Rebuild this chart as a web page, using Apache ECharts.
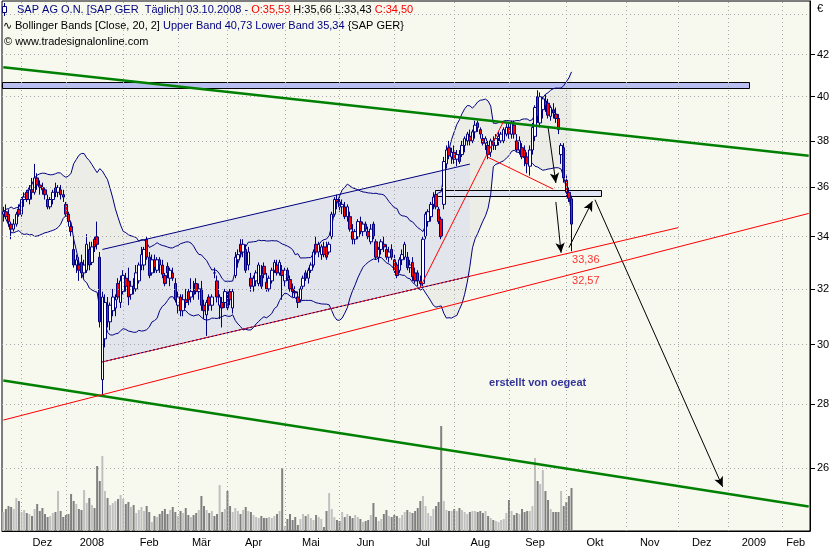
<!DOCTYPE html>
<html><head><meta charset="utf-8">
<script src="https://cdn.jsdelivr.net/npm/echarts@6.0.0/dist/echarts.min.js"></script>
<style>html,body{margin:0;padding:0;background:#fff}#c{width:840px;height:550px}</style>
</head><body><div id="c"></div>
<script>
// ---------- data ----------
const holidays = ['2007-12-24','2007-12-25','2007-12-26','2007-12-31','2008-01-01','2008-03-21','2008-03-24','2008-05-01','2008-12-24','2008-12-25','2008-12-26','2008-12-31','2009-01-01'];
const firstDay = '2007-11-22';
const lastDay = '2009-02-16';
const monthNames = ['Jan','Feb','Mär','Apr','Mai','Jun','Jul','Aug','Sep','Okt','Nov','Dez'];
const priceTicks = [26,28,30,32,34,36,38,40,42];
const gridLevels = [26,28,30,32,34,36,38,40,42,44];

const opens = [
34.9,35.0,34.9,34.5,34.3,34.5,35.1,34.9,35.5,35.8,
35.5,35.9,35.8,36.4,36.1,36.0,35.9,35.5,35.2,35.5,
36.0,35.8,35.9,35.7,35.3,34.9,34.4,33.5,32.9,32.9,
33.0,32.6,32.7,33.5,33.0,33.9,34.0,33.2,28.8,30.2,
31.4,30.8,31.2,31.3,32.2,31.5,31.9,32.4,32.3,31.8,
32.1,32.0,32.3,32.9,32.9,33.9,33.2,32.6,33.1,32.7,
33.1,32.9,32.5,32.85,32.4,32.6,32.2,31.4,31.7,31.2,
31.6,31.9,31.7,31.9,32.2,31.9,32.0,31.4,31.05,31.7,
31.4,32.6,32.3,31.4,31.5,31.5,31.6,31.9,31.3,32.5,
33.1,33.7,33.4,33.5,32.9,32.4,32.1,32.3,32.2,32.5,
32.85,32.25,32.0,32.3,32.7,32.9,32.6,32.7,32.3,32.7,
32.35,32.0,31.9,31.7,31.6,32.1,32.6,32.4,32.7,32.9,
33.7,33.4,33.3,33.6,33.6,33.4,34.0,34.9,35.5,35.4,
35.2,35.2,34.8,34.8,34.2,33.9,34.0,34.6,34.2,34.5,
34.2,33.8,34.5,33.8,33.2,33.5,33.7,33.5,33.2,33.5,
33.1,32.9,32.7,33.1,33.2,33.2,32.8,33.0,32.6,32.6,
32.3,32.2,34.0,34.6,34.8,35.3,35.7,35.1,34.7,35.3,
37.0,37.7,37.3,37.5,37.2,37.4,37.4,37.8,38.0,38.2,
38.0,38.4,38.8,38.5,38.1,37.9,37.8,37.5,38.0,37.8,
38.1,38.0,38.0,38.3,38.6,38.3,38.7,38.0,37.6,37.7,
37.6,37.3,36.9,37.6,38.2,40.0,38.8,39.4,39.8,39.7,
39.1,39.4,39.2,39.0,37.4,37.7,36.3,35.8,35.53];
const highs = [
35.2,35.3,35.1,34.6,34.7,35.0,35.3,35.6,35.8,35.9,
36.1,36.4,37.0,36.6,36.3,36.2,36.0,35.7,35.6,35.9,
36.2,36.1,36.1,35.9,35.4,35.0,34.6,34.0,33.3,33.2,
33.3,33.1,34.1,33.8,33.8,34.0,34.6,33.4,31.9,31.8,
31.7,31.5,32.0,31.8,32.4,32.5,32.7,32.6,32.8,32.3,
32.4,32.9,33.0,33.6,33.6,34.0,33.4,33.3,33.3,33.2,
33.2,33.1,32.6,33.0,32.8,32.8,32.4,31.9,31.8,31.8,
32.0,32.0,32.4,32.3,32.4,32.2,32.3,31.6,31.6,31.8,
31.8,32.8,32.5,31.8,31.7,32.0,31.9,32.0,32.0,33.4,
33.5,33.9,33.9,33.7,33.6,32.6,32.5,32.7,33.0,32.9,
33.0,32.6,32.5,32.8,33.1,33.1,33.1,32.9,32.8,32.8,
32.5,32.2,32.1,31.9,32.1,32.5,32.7,32.8,33.0,33.5,
34.0,33.8,33.7,33.8,33.8,33.8,35.0,35.6,35.7,35.6,
35.5,35.4,35.3,35.0,34.5,34.3,34.7,34.8,34.6,34.6,
34.4,34.5,34.6,33.9,33.6,33.9,34.0,33.7,33.6,33.7,
33.3,33.0,33.2,33.5,33.8,33.4,33.1,33.2,32.8,32.7,
32.5,34.0,35.0,35.1,35.4,35.8,35.85,35.2,34.8,37.3,
37.8,38.0,37.7,37.8,37.6,37.6,38.0,38.2,38.4,38.5,
38.5,38.9,38.9,38.6,38.3,38.2,38.0,38.1,38.2,38.3,
38.4,38.4,38.6,38.8,38.8,38.9,38.9,38.3,38.2,37.9,
37.8,37.5,37.8,38.8,39.6,40.3,40.2,40.0,40.1,39.9,
39.6,39.7,39.5,39.2,37.9,37.9,36.5,36.0,35.66];
const lows = [
34.6,34.7,34.4,33.9,34.2,34.4,34.8,34.8,35.2,35.4,
35.3,35.5,35.7,35.9,35.7,35.7,35.5,35.1,35.1,35.3,
35.6,35.6,35.5,35.4,34.8,34.4,34.0,32.8,32.6,32.3,
32.4,32.4,32.6,32.7,32.9,33.4,33.5,30.6,28.3,29.9,
30.6,30.5,31.0,31.0,31.6,31.3,31.8,31.9,31.4,31.6,
31.8,31.9,32.2,32.7,32.7,33.1,32.4,32.5,32.6,32.6,
32.6,32.4,32.1,32.4,32.1,32.3,31.5,31.1,31.0,31.0,
31.3,31.4,31.5,31.6,31.8,31.6,31.2,30.9,30.3,31.2,
31.2,32.4,31.5,30.9,30.6,31.3,31.2,31.4,31.1,32.4,
32.8,33.2,33.2,32.6,32.7,31.9,31.9,32.1,32.1,32.0,
32.4,31.9,31.9,32.2,32.6,32.5,32.5,31.6,32.1,32.3,
31.9,31.7,31.7,31.3,31.5,32.0,32.3,32.2,32.6,32.8,
33.3,33.2,33.1,33.2,33.1,33.3,33.9,34.8,35.1,35.0,
34.9,34.7,34.6,34.2,33.7,33.7,33.9,34.1,34.0,34.2,
33.9,33.7,33.9,33.1,33.0,33.3,33.4,33.1,33.0,33.1,
32.6,32.4,32.6,32.9,33.1,32.7,32.6,32.3,32.2,32.1,
32.05,32.1,33.9,34.4,34.6,35.1,35.1,34.5,33.9,35.1,
36.8,37.2,37.0,37.0,36.9,37.0,37.3,37.5,37.8,37.8,
37.9,38.1,38.4,38.1,37.8,37.6,37.2,37.3,37.6,37.6,
37.8,37.9,37.9,38.2,38.1,38.1,38.1,37.5,37.4,37.2,
36.9,36.6,36.5,37.4,38.0,38.8,38.6,39.0,39.3,39.0,
38.9,39.0,38.8,38.3,37.0,36.2,35.6,35.4,33.43];
const closes = [
35.0,34.8,34.6,34.3,34.5,34.9,34.9,35.5,35.6,35.5,
35.9,35.8,36.4,36.1,36.0,35.9,35.7,35.2,35.5,35.8,
35.8,36.0,35.7,35.6,34.9,34.6,34.2,32.9,33.1,32.7,
32.6,32.9,33.7,32.9,33.6,33.6,33.7,30.8,31.7,31.5,
30.8,31.4,31.7,31.6,31.7,32.3,32.5,32.1,31.7,32.1,
32.0,32.6,32.9,33.3,33.5,33.2,32.5,33.1,32.8,33.1,
32.9,32.55,32.2,32.6,32.7,32.4,31.6,31.7,31.2,31.6,
31.5,31.6,31.9,31.8,31.9,32.0,31.4,31.2,31.5,31.4,
31.7,32.6,31.7,31.7,31.3,31.9,31.3,31.6,31.9,33.2,
33.3,33.4,33.7,32.7,33.4,32.1,32.4,32.6,32.9,32.1,
32.55,32.0,32.4,32.7,33.0,32.6,33.0,32.5,32.7,32.4,
32.0,31.9,31.85,31.5,32.0,32.4,32.4,32.7,32.9,33.4,
33.4,33.7,33.6,33.3,33.2,33.7,34.9,35.5,35.4,35.2,
35.3,34.8,35.2,34.3,33.9,34.2,34.6,34.2,34.5,34.3,
34.0,34.3,34.0,33.2,33.5,33.8,33.6,33.2,33.4,33.2,
32.7,32.5,33.1,33.3,33.7,32.8,32.9,32.45,32.3,32.3,
32.2,33.9,34.9,35.0,35.3,35.6,35.2,34.6,34.0,37.1,
37.6,37.35,37.5,37.2,37.4,37.1,37.8,38.1,38.3,38.0,
38.4,38.7,38.6,38.3,37.9,38.1,37.4,38.0,37.8,38.1,
38.2,38.3,38.5,38.6,38.3,38.8,38.3,37.6,38.0,37.3,
37.3,37.0,37.6,38.6,39.5,39.1,40.0,39.9,39.6,39.15,
39.5,39.25,39.0,38.5,37.8,36.4,35.8,35.55,34.50];
const volumes = [
19,22,25,24,22,33,30,19,21,18,
17,15,22,27,20,23,17,14,15,18,
19,40,20,14,16,17,37,30,27,22,
21,41,28,33,26,23,65,50,75,40,
33,26,28,30,32,36,32,27,29,24,
26,18,21,24,20,25,19,9,15,14,
17,20,22,17,21,24,19,15,20,18,
23,16,14,16,18,21,35,25,21,18,
20,15,17,46,19,22,40,25,19,23,
20,17,21,24,20,19,16,14,13,15,
13,13,14,13,15,17,20,63,5,12,
17,11,14,6,12,17,15,17,13,11,
16,14,12,4,20,38,22,14,11,10,
19,14,17,15,13,16,14,12,9,10,
11,16,28,14,10,12,17,21,15,14,
16,15,13,16,19,21,19,18,20,23,
30,35,25,18,15,22,25,29,105,30,
21,20,20,22,20,23,21,19,17,19,
20,20,19,20,18,20,15,13,11,10,
9,11,12,18,31,20,16,18,17,22,
19,20,20,25,73,50,47,61,40,31,
22,19,19,19,40,25,29,35,43];

// drawn annotations: [dayIndex, price]
const greenUpper = [[0, 41.39], [309, 37.35]];
const greenLower = [[0, 28.77], [309, 24.86]];
const redA = [[0, 27.48], [309, 34.93]];
const redB = [[38, 29.40], [259, 34.36]];
const channelUpper = [[38, 33.50], [179, 36.99]];
const channelLower = [[38, 29.40], [179, 32.47]];
const redC = [[160, 32.07], [192, 38.89]];
const redD = [[186, 37.28], [211, 35.93]];
const arrows = [[209, 38.61, 212, 36.19], [212, 35.40, 214, 33.37], [217, 33.57, 226, 35.43], [227, 35.49, 276, 25.43]];
const zones = [[0, 286, 40.42, 40.68], [166, 229, 35.65, 35.90]];
const notes = [[218, 33.09, '33,36'], [218, 32.31, '32,57'], [205, 28.69, 'erstellt von oegeat']];

// ---------- derived ----------
const FONT = '"Liberation Sans", Arial, sans-serif';
const tradingDays = [];
(function () {
  const d = new Date(firstDay + 'T00:00:00Z');
  const end = new Date(lastDay + 'T00:00:00Z').getTime();
  while (d.getTime() <= end) {
    const wd = d.getUTCDay();
    const s = d.toISOString().slice(0, 10);
    if (wd !== 0 && wd !== 6 && holidays.indexOf(s) < 0) tradingDays.push(s);
    d.setUTCDate(d.getUTCDate() + 1);
  }
})();
const groups = {};
tradingDays.forEach((s, i) => { const k = s.slice(0, 7); (groups[k] = groups[k] || []).push(i); });
const monthStart = new Set(), monthMid = new Set();
Object.keys(groups).forEach(k => {
  const arr = groups[k];
  if (+tradingDays[arr[0]].slice(8, 10) > 7) return;
  monthStart.add(arr[0]);
  monthMid.add(Math.floor((arr[0] + arr[arr.length - 1]) / 2));
});
const fmtMonth = v => { const m = +v.slice(5, 7); return m === 1 ? v.slice(0, 4) : monthNames[m - 1]; };

const bbUpper = [], bbLower = [], bbWidth = [];
closes.forEach((c, i) => {
  const w = closes.slice(Math.max(0, i - 19), i + 1);
  const m = w.reduce((a, b) => a + b, 0) / w.length;
  const sd = Math.sqrt(w.reduce((a, b) => a + (b - m) * (b - m), 0) / w.length);
  bbUpper.push(m + 2 * sd); bbLower.push(m - 2 * sd); bbWidth.push(4 * sd);
});
const candles = closes.map((c, i) => [opens[i], c, lows[i], highs[i]]);
const last = closes.length - 1;
const f2 = v => v.toFixed(2).replace('.', ',');

function lineSeries(name, pts, color, width, z, extra) {
  return Object.assign({ name, type: 'line', data: pts, symbol: 'none', silent: true, z,
    lineStyle: { color, width }, animation: false }, extra || {});
}

const option = {
  animation: false,
  backgroundColor: '#ffffff',
  textStyle: { fontFamily: FONT },
  grid: [
    { left: 2, right: 30, top: 1, bottom: 19, show: true, backgroundColor: '#f7f9ef', borderColor: '#000', borderWidth: 1 },
    { left: 2, right: 30, top: 400, bottom: 19, show: false }
  ],
  xAxis: [
    { type: 'category', gridIndex: 0, data: tradingDays, boundaryGap: true,
      axisLine: { lineStyle: { color: '#000', width: 1 } },
      axisTick: { interval: i => monthStart.has(i), alignWithLabel: true, length: 4, lineStyle: { color: '#000' } },
      axisLabel: { interval: i => monthMid.has(i), formatter: fmtMonth, color: '#000', fontSize: 11, margin: 6, fontFamily: FONT },
      splitLine: { show: false } },
    { type: 'category', gridIndex: 1, data: tradingDays, boundaryGap: true, show: false }
  ],
  yAxis: [
    { type: 'log', logBase: 10, gridIndex: 0, position: 'right', min: 24.16, max: 44.70,
      axisLine: { show: true, lineStyle: { color: '#000' } },
      axisTick: { show: true, length: 5, customValues: priceTicks, lineStyle: { color: '#000' } },
      axisLabel: { customValues: priceTicks, color: '#000', fontSize: 11, margin: 7, fontFamily: FONT, formatter: v => String(Math.round(v)) },
      splitLine: { show: false } },
    { type: 'value', gridIndex: 1, min: 0, max: 131, show: false }
  ],
  series: [
    { name: 'Volumen', type: 'bar', xAxisIndex: 1, yAxisIndex: 1, data: volumes, barWidth: 2, z: 1, silent: true,
      itemStyle: { color: p => closes[p.dataIndex] > opens[p.dataIndex] ? '#c0c0c0' : '#808080' } },
    { name: 'bbBase', type: 'line', data: bbLower, stack: 'bb', symbol: 'none', silent: true, z: 1,
      lineStyle: { width: 0, opacity: 0 } },
    { name: 'bbFill', type: 'line', data: bbWidth, stack: 'bb', symbol: 'none', silent: true, z: 1,
      lineStyle: { width: 0, opacity: 0 }, areaStyle: { color: '#ecede7', opacity: 1 } },
    { name: 'Kanal', type: 'custom', data: [channelUpper[0]], z: 1, silent: true,
      renderItem: (params, api) => ({
        type: 'polygon',
        shape: { points: [api.coord(channelUpper[0]), api.coord(channelUpper[1]), api.coord(channelLower[1]), api.coord(channelLower[0])] },
        style: { fill: '#e2e5ec' }
      }) },
    { name: 'Zonen', type: 'custom', data: zones.map(zn => [zn[0], zn[2]]), z: 2, silent: true,
      renderItem: (params, api) => {
        const zn = zones[params.dataIndex];
        const bw = api.size([1, 0])[0];
        const p0 = api.coord([zn[0], zn[3]]), p1 = api.coord([zn[1], zn[2]]);
        return { type: 'rect',
          shape: { x: Math.round(p0[0] - bw / 2) + 0.5, y: Math.round(p0[1]) + 0.5, width: Math.round(p1[0] - p0[0] + bw / 2), height: Math.max(3, Math.round(p1[1] - p0[1])) },
          style: { fill: params.dataIndex === 0 ? '#b9bff0' : '#dfe3f2', stroke: '#000', lineWidth: 1 } };
      } },
    lineSeries('Upper Band', bbUpper, '#000080', 1, 3, {
      markLine: { silent: true, symbol: ['none', 'none'], label: { show: false }, animation: false,
        lineStyle: { color: '#a8a8a8', type: [1, 3], width: 1 },
        data: gridLevels.map(v => ({ yAxis: v })).concat([...monthStart].map(i => ({ xAxis: i }))) } }),
    lineSeries('Lower Band', bbLower, '#000080', 1, 3),
    { name: 'SAP', type: 'candlestick', data: candles, barWidth: 3, z: 4, silent: true,
      itemStyle: { color: '#ffffff', color0: '#ff0000', borderColor: '#000080', borderColor0: '#000080', borderWidth: 1 } },
    lineSeries('greenUpper', greenUpper, '#008000', 2.5, 5),
    lineSeries('greenLower', greenLower, '#008000', 2.5, 5),
    lineSeries('redA', redA, '#ff0000', 1, 5),
    lineSeries('redB', redB, '#ff0000', 1, 5),
    lineSeries('chanUpper', channelUpper, '#000080', 1, 5),
    lineSeries('chanLower', channelLower, '#000080', 1, 6, { lineStyle: { color: '#000080', width: 1, type: [2, 2] } }),
    lineSeries('redC', redC, '#ff0000', 1, 5),
    lineSeries('redD', redD, '#ff0000', 1, 5, {
      markLine: { silent: true, symbol: ['none', 'arrow'], symbolSize: [7, 10], label: { show: false }, animation: false,
        lineStyle: { color: '#000', width: 1, type: 'solid' }, itemStyle: { color: '#000' },
        data: arrows.map(a => [{ coord: [a[0], a[1]] }, { coord: [a[2], a[3]] }]) } }),
    { name: 'Notizen', type: 'scatter', z: 7, silent: true, symbolSize: 1, itemStyle: { color: 'rgba(0,0,0,0)' },
      data: notes.map((n, k) => ({ value: [n[0], n[1]],
        label: k < 2
          ? { show: true, formatter: n[2], position: 'right', distance: 0, color: '#ff0000', fontSize: 11, fontFamily: FONT }
          : { show: true, formatter: n[2], position: 'inside', color: '#000080', fontSize: 11, fontWeight: 'bold', fontFamily: FONT } })) }
  ],
  graphic: [
    { type: 'line', z: 100, shape: { x1: 4.5, y1: 3, x2: 4.5, y2: 16 }, style: { stroke: '#000080', lineWidth: 1 } },
    { type: 'rect', z: 100, shape: { x: 2.5, y: 6.5, width: 4, height: 6 }, style: { fill: '#ffffff', stroke: '#000080', lineWidth: 1 } },
    { type: 'text', z: 100, x: 17, y: 10, style: {
        text: '{n|SAP AG O.N. [SAP GER  Täglich] 03.10.2008 - }{r|O:' + f2(opens[last]) + '}{k| H:' + f2(highs[last]) + ' L:' + f2(lows[last]) + ' }{r|C:' + f2(closes[last]) + '}',
        font: '11px ' + FONT, verticalAlign: 'middle', fill: '#000',
        rich: { n: { fill: '#000080', font: '11px ' + FONT }, r: { fill: '#ff0000', font: '11px ' + FONT }, k: { fill: '#000000', font: '11px ' + FONT } } } },
    { type: 'text', z: 100, x: 3, y: 26, style: { text: '∿', font: '11px "DejaVu Sans"', fill: '#000', verticalAlign: 'middle' } },
    { type: 'text', z: 100, x: 15, y: 26, style: {
        text: 'Bollinger Bands [Close, 20, 2] {n|Upper Band 40,73 Lower Band 35,34} {SAP GER}',
        font: '11px ' + FONT, verticalAlign: 'middle', fill: '#000',
        rich: { n: { fill: '#000080', font: '11px ' + FONT } } } },
    { type: 'text', z: 100, x: 4, y: 42, style: { text: '© www.tradesignalonline.com', font: '11px ' + FONT, fill: '#000', verticalAlign: 'middle' } },
    { type: 'text', z: 100, x: 817, y: 9, style: { text: '€', font: '11px ' + FONT, fill: '#000', verticalAlign: 'middle' } }
  ]
};
const chart = echarts.init(document.getElementById('c'), null, { renderer: 'canvas', width: 840, height: 550 });
chart.setOption(option);
</script>
</body></html>
